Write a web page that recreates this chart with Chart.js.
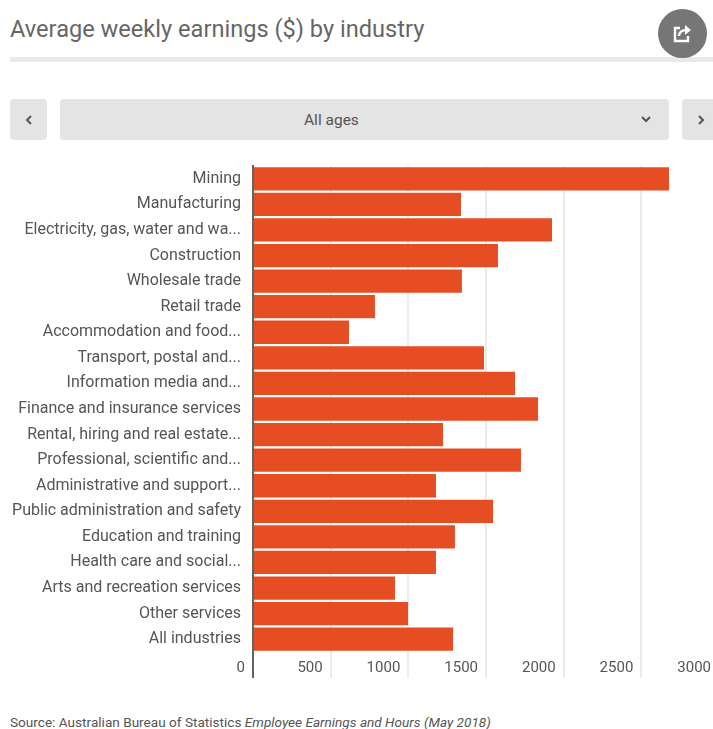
<!DOCTYPE html>
<html>
<head>
<meta charset="utf-8">
<script src="https://cdn.jsdelivr.net/npm/chart.js@4"></script>
<style>
  html, body { margin: 0; padding: 0; background: #fff; }
  body { position: relative; width: 713px; height: 729px; overflow: hidden; font-family: Roboto, sans-serif; color: #555; }
  h1 { position: absolute; left: 10px; top: 15px; margin: 0; font-size: 23.6px; font-weight: 400; line-height: 28px; color: #666; white-space: nowrap; }
  .rule { position: absolute; left: 10px; top: 57px; width: 703px; height: 5px; background: #e9e9e9; }
  .share { position: absolute; left: 658px; top: 9px; width: 49px; height: 49px; border-radius: 50%; background: #767676; }
  .share svg { position: absolute; left: 14px; top: 14px; }
  .btn { position: absolute; top: 99px; height: 41px; background: #e4e4e4; border-radius: 4px; display: flex; align-items: center; justify-content: center; font-size: 15.5px; color: #555; }
  .btn svg { display: block; }
  #prev { left: 10px; width: 37px; }
  #select { left: 60px; width: 609px; }
  #select span { position: absolute; left: 244px; top: 12px; line-height: 18px; white-space: nowrap; }
  #select svg { position: absolute; right: 17px; top: 16px; }
  #next { left: 682px; width: 37px; }
  #wrap { position: absolute; left: 0; top: 161px; width: 760px; height: 530px; }
  .source { position: absolute; left: 10px; top: 714px; font-size: 13.6px; line-height: 16px; color: #555; white-space: nowrap; }
</style>
</head>
<body>
<h1>Average weekly earnings ($) by industry</h1>
<div class="rule"></div>
<div class="share">
  <svg width="21" height="21" viewBox="0 0 21 21" fill="none" stroke="#fff" stroke-width="2.4">
    <path d="M8 5H3v13h13v-5"/>
    <path d="M7 13c0-4 3-6 8-6" />
    <path d="M13 2l6 5-6 5z" fill="#fff" stroke="none"/>
  </svg>
</div>
<div class="btn" id="prev"><svg width="8" height="12" viewBox="0 0 8 12" fill="none" stroke="#555" stroke-width="2"><path d="M6 2L2 6l4 4"/></svg></div>
<div class="btn" id="select"><span>All ages</span><svg width="12" height="8" viewBox="0 0 12 8" fill="none" stroke="#555" stroke-width="2"><path d="M2 2l4 4 4-4"/></svg></div>
<div class="btn" id="next"><svg width="8" height="12" viewBox="0 0 8 12" fill="none" stroke="#555" stroke-width="2"><path d="M2 2l4 4-4 4"/></svg></div>
<div id="wrap"><canvas id="chart" width="760" height="530"></canvas></div>
<div class="source">Source: Australian Bureau of Statistics <em>Employee Earnings and Hours (May 2018)</em></div>

<script>
const industries = [
  'Mining', 'Manufacturing', 'Electricity, gas, water and wa...', 'Construction',
  'Wholesale trade', 'Retail trade', 'Accommodation and food...', 'Transport, postal and...',
  'Information media and...', 'Finance and insurance services', 'Rental, hiring and real estate...',
  'Professional, scientific and...', 'Administrative and support...', 'Public administration and safety',
  'Education and training', 'Health care and social...', 'Arts and recreation services',
  'Other services', 'All industries',
];
const earnings = [
  2678, 1339, 1925, 1577, 1345, 785, 618, 1487, 1687, 1835,
  1223, 1725, 1178, 1545, 1300, 1178, 914, 998, 1288,
];
const xTicks = [0, 500, 1000, 1500, 2000, 2500, 3000];

new Chart(document.getElementById('chart'), {
  type: 'bar',
  data: {
    labels: industries,
    datasets: [{
      data: earnings,
      backgroundColor: '#e64d22',
      categoryPercentage: 1,
      barPercentage: 0.91,
    }],
  },
  options: {
    indexAxis: 'y',
    responsive: false,
    animation: false,
    layout: { padding: { top: 5, right: 41, bottom: 0, left: 0 } },
    plugins: { legend: { display: false }, tooltip: { enabled: false } },
    scales: {
      x: {
        min: 0,
        max: 3000,
        afterBuildTicks: axis => { axis.ticks = xTicks.map(value => ({ value })); },
        afterFit: axis => { axis.height = 39; axis.paddingLeft = 0; axis.paddingRight = 0; },
        grid: { color: '#ebebeb', lineWidth: 2, drawTicks: true, tickLength: 26, tickColor: '#ebebeb' },
        border: { display: false },
        ticks: {
          align: 'end',
          labelOffset: -8,
          padding: -19,
          maxRotation: 0,
          autoSkip: false,
          color: '#555',
          font: { family: 'Roboto', size: 15 },
          callback: value => String(value),
        },
      },
      y: {
        afterFit: axis => { axis.width = 253; axis.paddingTop = 0; axis.paddingBottom = 0; },
        grid: { display: false, drawTicks: false },
        border: { display: false },
        ticks: {
          padding: 12,
          autoSkip: false,
          color: '#555',
          font: { family: 'Roboto', size: 16 },
        },
      },
    },
  },
  plugins: [{
    // dark baseline runs past the plot area, down through the tick row
    id: 'zeroLine',
    afterDatasetsDraw(chart) {
      const { ctx, chartArea, scales } = chart;
      const x = scales.x.getPixelForValue(0);
      ctx.save();
      ctx.strokeStyle = '#5f6468';
      ctx.lineWidth = 2;
      ctx.beginPath();
      ctx.moveTo(x, chartArea.top - 1);
      ctx.lineTo(x, chartArea.bottom + 26);
      ctx.stroke();
      ctx.restore();
    },
  }],
});
</script>
</body>
</html>
